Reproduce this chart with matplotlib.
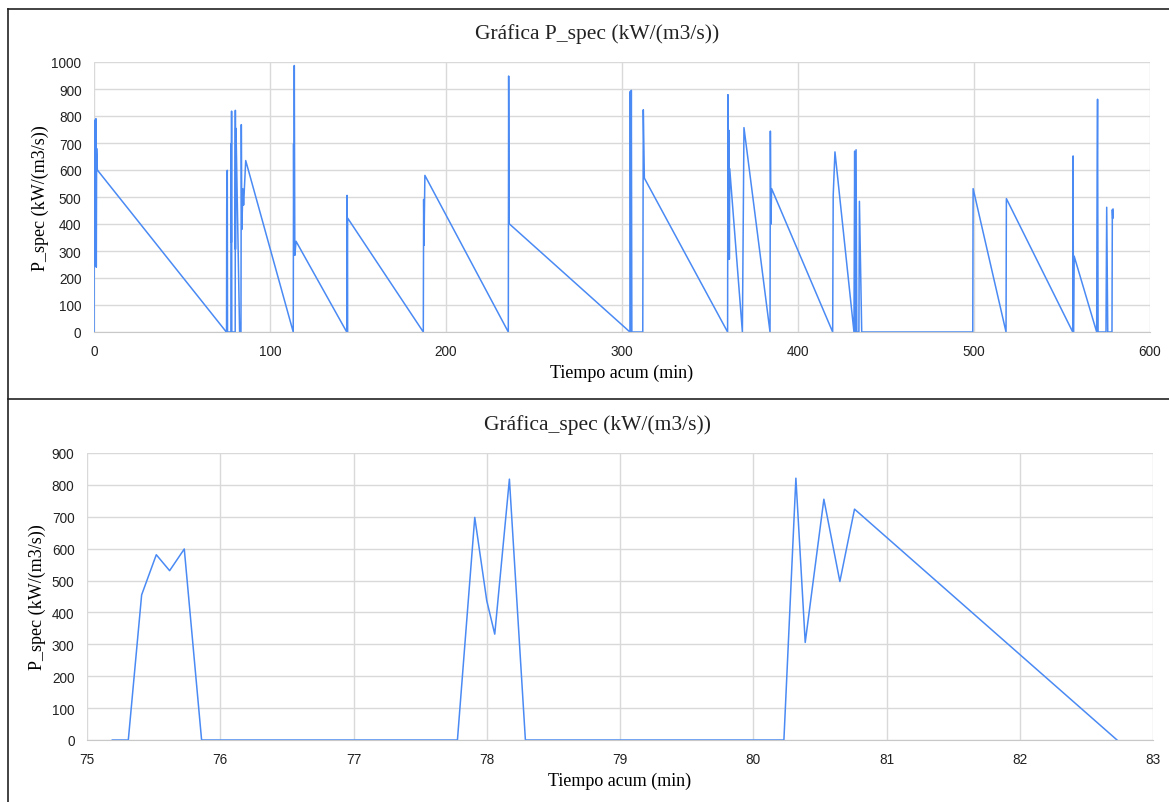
import matplotlib.pyplot as plt
from matplotlib.lines import Line2D

# Detail window 75-83 min (bottom chart)
detail_time = [75.19, 75.31, 75.41, 75.52, 75.62, 75.73, 75.86, 77.78, 77.91, 78.00,
               78.06, 78.17, 78.29, 80.23, 80.32, 80.39, 80.53, 80.65, 80.76, 82.73]
detail_p = [0, 0, 455, 581, 531, 599, 0, 0, 698, 437,
            332, 818, 0, 0, 821, 306, 755, 497, 724, 0]

# Full run (top chart)
start_time = [0.0, 0.1, 0.3, 0.5, 0.8, 1.1, 1.3, 1.5, 1.9]
start_p = [0, 505, 250, 785, 245, 790, 240, 680, 600]

rest_time = [83.5, 83.7, 84.0, 84.6, 85.0, 86.2,
             113.2, 113.4, 113.6, 113.8, 114.1, 114.8,
             143.6, 143.8, 144.0, 144.1,
             187.1, 187.3, 187.5, 188.0,
             235.4, 235.6, 235.8, 235.9,
             304.5, 304.7, 305.0, 305.3, 305.6, 311.8, 312.1, 312.7,
             360.0, 360.2, 360.5, 360.7, 361.0, 361.2,
             368.4, 369.3,
             384.1, 384.3, 384.6, 385.0,
             419.7, 420.0, 421.0,
             431.8, 432.2, 432.5, 433.0, 433.4, 434.6, 434.9, 436.2,
             499.3, 499.5, 518.2, 518.4,
             556.1, 556.3, 556.5, 556.9,
             569.7, 569.9, 570.2, 570.5, 575.0, 575.4, 576.0,
             578.4, 578.6, 578.8, 579.0]
rest_p = [0, 768, 380, 530, 470, 635,
          0, 697, 290, 987, 284, 336,
          0, 506, 0, 422,
          0, 491, 321, 580,
          0, 948, 520, 401,
          0, 891, 0, 895, 0, 0, 823, 570,
          0, 879, 269, 747, 270, 605,
          0, 757,
          0, 744, 399, 531,
          0, 506, 667,
          0, 670, 0, 675, 0, 0, 484, 0,
          0, 531, 0, 494,
          0, 652, 0, 281,
          0, 480, 862, 0, 0, 462, 0,
          0, 453, 420, 455]

all_time = start_time + detail_time + rest_time
all_p = start_p + detail_p + rest_p

title_top = 'Gráfica P_spec (kW/(m3/s))'
title_bottom = 'Gráfica_spec (kW/(m3/s))'
xlabel = 'Tiempo acum (min)'
ylabel = 'P_spec (kW/(m3/s))'

blue = '#4a8af4'
grid_c = '#d9d9d9'
W, H = 1169, 803

fig = plt.figure(figsize=(W / 100, H / 100), dpi=100)


def box(l, r, t, b):
    return [l / W, 1 - b / H, (r - l) / W, (b - t) / H]


def style(ax):
    ax.grid(True, color=grid_c, linewidth=1.0)
    ax.set_axisbelow(True)
    for s in ['left', 'top', 'right']:
        ax.spines[s].set_visible(False)
    ax.spines['bottom'].set_color('#c8c8c8')
    ax.tick_params(length=0, labelsize=9.8, labelcolor='#222222', pad=9)
    for lab in ax.get_xticklabels() + ax.get_yticklabels():
        lab.set_fontfamily('Liberation Sans')


serif = 'Liberation Serif'

ax1 = fig.add_axes(box(94, 1150, 63, 333))
ax1.plot(all_time, all_p, color=blue, linewidth=1.1)
ax1.set_xlim(0, 600)
ax1.set_ylim(0, 1000)
ax1.set_xticks(range(0, 601, 100))
ax1.set_yticks(range(0, 1001, 100))
style(ax1)
ax1.set_xlabel(xlabel, fontfamily=serif, fontsize=13, labelpad=4)
ax1.set_ylabel(ylabel, fontfamily=serif, fontsize=13, labelpad=2)

ax2 = fig.add_axes(box(87, 1153, 454, 741))
ax2.plot(detail_time, detail_p, color=blue, linewidth=1.1)
ax2.set_xlim(75, 83)
ax2.set_ylim(0, 900)
ax2.set_xticks(range(75, 84))
ax2.set_yticks(range(0, 901, 100))
style(ax2)
ax2.set_xlabel(xlabel, fontfamily=serif, fontsize=13, labelpad=4)
ax2.set_ylabel(ylabel, fontfamily=serif, fontsize=13, labelpad=4)

fig.text(597 / W, 1 - 34 / H, title_top, ha='center', va='center',
         fontfamily=serif, fontsize=15.5, color='#222222')
fig.text(597 / W, 1 - 425 / H, title_bottom, ha='center', va='center',
         fontfamily=serif, fontsize=15.5, color='#222222')

# panel frames
for xs, ys in [([8 / W, 1], [1 - 10 / H, 1 - 10 / H]),
               ([8 / W, 1], [1 - 400 / H, 1 - 400 / H]),
               ([8 / W, 8 / W], [1 - 10 / H, 0])]:
    fig.add_artist(Line2D(xs, ys, color='#222222', linewidth=1.2))

plt.savefig('out.png', dpi=100)
